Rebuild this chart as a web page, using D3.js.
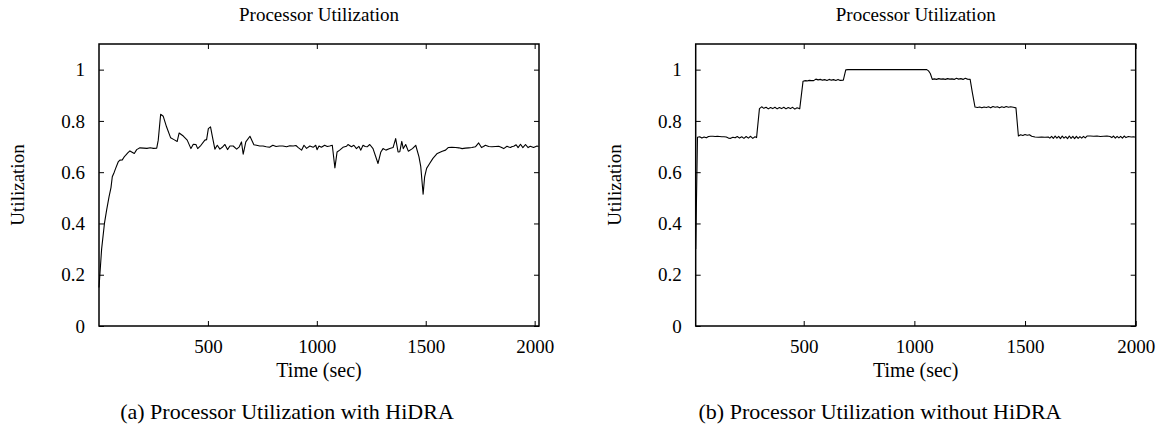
<!DOCTYPE html>
<html>
<head>
<meta charset="utf-8">
<script src="https://cdn.jsdelivr.net/npm/d3@7"></script>
<style>
    body { margin: 0; background: #fff; }
</style>
</head>
<body>
<div id="viz"></div>
<script>
const titleText = 'Processor Utilization'
const xLabel = 'Time (sec)'
const yLabel = 'Utilization'
const xTicks = [500, 1000, 1500, 2000]
const yTicks = [0, 0.2, 0.4, 0.6, 0.8, 1]

// [time (sec), utilization]
const withHidra = [
    [0, 0.15], [12, 0.30], [25, 0.40], [35, 0.452], [46, 0.504], [55, 0.54], [61, 0.582], [70, 0.60],
    [76, 0.614], [88, 0.64], [96, 0.647], [107, 0.648], [116, 0.66], [122, 0.666], [132, 0.675],
    [142, 0.683], [152, 0.678], [162, 0.673], [173, 0.688], [188, 0.695], [205, 0.694], [220, 0.693],
    [235, 0.695], [250, 0.693], [265, 0.694], [272, 0.725], [283, 0.826], [295, 0.818], [310, 0.777],
    [329, 0.734], [344, 0.727], [359, 0.72], [368, 0.753], [387, 0.741], [405, 0.725], [422, 0.692],
    [433, 0.709], [445, 0.708], [453, 0.692], [468, 0.705], [486, 0.725], [494, 0.727], [502, 0.77],
    [512, 0.777], [521, 0.737], [532, 0.69], [543, 0.705], [555, 0.69], [566, 0.697], [578, 0.708],
    [590, 0.688], [601, 0.702], [616, 0.702], [632, 0.69], [644, 0.699], [654, 0.718], [662, 0.67],
    [674, 0.718], [693, 0.74], [711, 0.707], [723, 0.705], [738, 0.702], [753, 0.702], [768, 0.699],
    [783, 0.697], [798, 0.705], [813, 0.700], [828, 0.702], [844, 0.702], [861, 0.699], [876, 0.703],
    [892, 0.702], [904, 0.704], [915, 0.696], [930, 0.686], [941, 0.705], [953, 0.693], [968, 0.702],
    [983, 0.697], [995, 0.705], [1001, 0.688], [1010, 0.702], [1021, 0.697], [1036, 0.705], [1048, 0.700],
    [1059, 0.702], [1071, 0.705], [1083, 0.617], [1093, 0.679], [1105, 0.686], [1120, 0.697], [1136, 0.701],
    [1143, 0.708], [1159, 0.699], [1170, 0.705], [1182, 0.692], [1193, 0.701], [1202, 0.686], [1212, 0.705],
    [1222, 0.70], [1231, 0.699], [1243, 0.708], [1258, 0.692], [1281, 0.634], [1294, 0.679], [1304, 0.692],
    [1317, 0.686], [1335, 0.692], [1350, 0.696], [1362, 0.731], [1373, 0.679], [1381, 0.68], [1390, 0.72],
    [1397, 0.692], [1408, 0.708], [1420, 0.682], [1439, 0.692], [1454, 0.705], [1469, 0.66], [1477, 0.623],
    [1488, 0.514], [1495, 0.582], [1504, 0.615], [1518, 0.634], [1533, 0.654], [1553, 0.673], [1576, 0.682],
    [1591, 0.686], [1603, 0.696], [1620, 0.697], [1637, 0.696], [1652, 0.695], [1667, 0.692], [1682, 0.694],
    [1697, 0.695], [1712, 0.696], [1728, 0.699], [1743, 0.714], [1756, 0.696], [1765, 0.70], [1774, 0.705],
    [1789, 0.70], [1804, 0.699], [1820, 0.70], [1835, 0.701], [1846, 0.697], [1858, 0.692], [1873, 0.701],
    [1881, 0.698], [1889, 0.696], [1897, 0.70], [1904, 0.701], [1915, 0.707], [1924, 0.696], [1935, 0.709],
    [1946, 0.696], [1958, 0.708], [1970, 0.696], [1980, 0.701], [1995, 0.696], [2011, 0.702], [2018, 0.70]
]

const withoutHidra = [
    [12, 0.30], [20, 0.736], [30, 0.738], [40, 0.733], [50, 0.737], [60, 0.734], [70, 0.739], [80, 0.740],
    [90, 0.740], [100, 0.739], [110, 0.740], [120, 0.739], [130, 0.738], [140, 0.738], [150, 0.737],
    [160, 0.733], [170, 0.732], [180, 0.736], [190, 0.734], [200, 0.739], [210, 0.733], [220, 0.738],
    [230, 0.732], [240, 0.739], [250, 0.733], [260, 0.740], [270, 0.732], [280, 0.738], [287, 0.735],
    [300, 0.848], [310, 0.855], [320, 0.849], [330, 0.853], [340, 0.847], [350, 0.852], [360, 0.848],
    [370, 0.853], [380, 0.847], [390, 0.852], [400, 0.848], [410, 0.853], [420, 0.847], [430, 0.852],
    [440, 0.848], [450, 0.853], [460, 0.846], [470, 0.851], [482, 0.847],
    [497, 0.955], [505, 0.957], [515, 0.956], [525, 0.958], [535, 0.957], [545, 0.957], [555, 0.963],
    [565, 0.960], [575, 0.962], [585, 0.959], [595, 0.961], [605, 0.958], [615, 0.962], [625, 0.959],
    [635, 0.961], [645, 0.958], [655, 0.962], [665, 0.958], [679, 0.959],
    [690, 0.999], [700, 1.0], [750, 1.0], [800, 1.0], [850, 1.0], [900, 1.0], [950, 1.0], [1000, 1.0],
    [1056, 1.0], [1064, 0.995], [1072, 0.985], [1081, 0.962], [1090, 0.964], [1100, 0.962], [1110, 0.965],
    [1120, 0.963], [1130, 0.964], [1140, 0.962], [1150, 0.965], [1160, 0.963], [1170, 0.964], [1180, 0.962],
    [1190, 0.966], [1200, 0.963], [1210, 0.965], [1220, 0.962], [1230, 0.966], [1240, 0.963], [1252, 0.962],
    [1262, 0.91], [1274, 0.854], [1285, 0.852], [1295, 0.854], [1305, 0.851], [1315, 0.854], [1325, 0.852],
    [1335, 0.855], [1345, 0.851], [1355, 0.856], [1365, 0.853], [1375, 0.855], [1385, 0.851], [1395, 0.855],
    [1405, 0.852], [1415, 0.856], [1425, 0.853], [1435, 0.855], [1447, 0.853], [1459, 0.851],
    [1470, 0.741], [1480, 0.746], [1490, 0.743], [1500, 0.747], [1510, 0.744], [1520, 0.746], [1530, 0.740],
    [1545, 0.737], [1560, 0.736], [1575, 0.737], [1590, 0.736], [1605, 0.737], [1612, 0.733], [1620, 0.740],
    [1628, 0.732], [1636, 0.741], [1644, 0.733], [1652, 0.740], [1660, 0.731], [1668, 0.741], [1676, 0.733],
    [1684, 0.739], [1692, 0.731], [1700, 0.741], [1708, 0.732], [1716, 0.740], [1724, 0.731], [1732, 0.740],
    [1740, 0.732], [1748, 0.739], [1756, 0.733], [1764, 0.740], [1772, 0.734], [1780, 0.741], [1795, 0.741],
    [1810, 0.740], [1825, 0.741], [1840, 0.739], [1855, 0.740], [1870, 0.741], [1884, 0.739], [1892, 0.735],
    [1900, 0.741], [1908, 0.733], [1916, 0.740], [1924, 0.734], [1932, 0.740], [1940, 0.733], [1948, 0.741],
    [1956, 0.735], [1967, 0.739], [1980, 0.737], [1990, 0.738], [2000, 0.736]
]

const w = 1161, h = 433
const fontSize = 19
const serif = "'Liberation Serif', 'DejaVu Serif', serif"

const svg = d3.select('#viz')
    .append('svg')
    .attr('width', w)
    .attr('height', h)
    .attr('viewBox', [0, 0, w, h])
    .attr('font-family', serif)

const plotTop = 44, plotBottom = 326

const panel = (opts) => {
    const x = d3.scaleLinear()
        .domain(opts.xDomain)
        .range([opts.left, opts.right])
    const y = d3.scaleLinear()
        .domain([0, 1.1])
        .range([plotBottom, plotTop])

    const g = svg.append('g')

    // axes with inward ticks, mirrored on top and right
    const axisStyle = (sel) => {
        sel.select('.domain').remove()
        sel.attr('font-size', fontSize)
            .attr('font-family', serif)
        sel.selectAll('line').attr('stroke', '#000').attr('stroke-width', 1)
        sel.selectAll('text').attr('fill', '#000')
    }

    g.append('g')
        .attr('transform', `translate(0, ${plotBottom})`)
        .call(d3.axisBottom(x).tickValues(xTicks).tickSize(-5).tickPadding(14).tickFormat(d3.format('d')))
        .call(axisStyle)
    g.append('g')
        .attr('transform', `translate(0, ${plotTop})`)
        .call(d3.axisTop(x).tickValues(xTicks).tickSize(-5).tickFormat(''))
        .call(axisStyle)
    g.append('g')
        .attr('transform', `translate(${opts.left}, 0)`)
        .call(d3.axisLeft(y).tickValues(yTicks).tickSize(-5).tickPadding(14).tickFormat(d3.format('')))
        .call(axisStyle)
    g.append('g')
        .attr('transform', `translate(${opts.right}, 0)`)
        .call(d3.axisRight(y).tickValues(yTicks).tickSize(-5).tickFormat(''))
        .call(axisStyle)

    g.append('rect')
        .attr('x', opts.left)
        .attr('y', plotTop)
        .attr('width', opts.right - opts.left)
        .attr('height', plotBottom - plotTop)
        .attr('fill', 'none')
        .attr('stroke', '#000')
        .attr('stroke-width', 1.5)

    const line = d3.line()
        .x(d => x(d[0]))
        .y(d => y(d[1]))

    g.append('path')
        .datum(opts.data)
        .attr('d', line)
        .attr('fill', 'none')
        .attr('stroke', '#000')
        .attr('stroke-width', 1.1)
        .attr('stroke-linejoin', 'round')

    const midX = (opts.left + opts.right) / 2

    g.append('text')
        .attr('x', midX)
        .attr('y', 21)
        .attr('text-anchor', 'middle')
        .attr('font-size', fontSize)
        .text(titleText)

    g.append('text')
        .attr('x', midX)
        .attr('y', 377)
        .attr('text-anchor', 'middle')
        .attr('font-size', 20)
        .text(xLabel)

    g.append('text')
        .attr('transform', `translate(${opts.left - 75}, ${(plotTop + plotBottom) / 2}) rotate(-90)`)
        .attr('text-anchor', 'middle')
        .attr('font-size', fontSize)
        .text(yLabel)

    g.append('text')
        .attr('x', opts.captionX)
        .attr('y', 419)
        .attr('text-anchor', 'middle')
        .attr('font-size', 22)
        .text(opts.caption)
}

panel({
    data: withHidra,
    xDomain: [0, 2020],
    left: 99, right: 539,
    captionX: 287,
    caption: '(a) Processor Utilization with HiDRA'
})

panel({
    data: withoutHidra,
    xDomain: [12, 2000],
    left: 695.7, right: 1135.7,
    captionX: 880,
    caption: '(b) Processor Utilization without HiDRA'
})
</script>
</body>
</html>
